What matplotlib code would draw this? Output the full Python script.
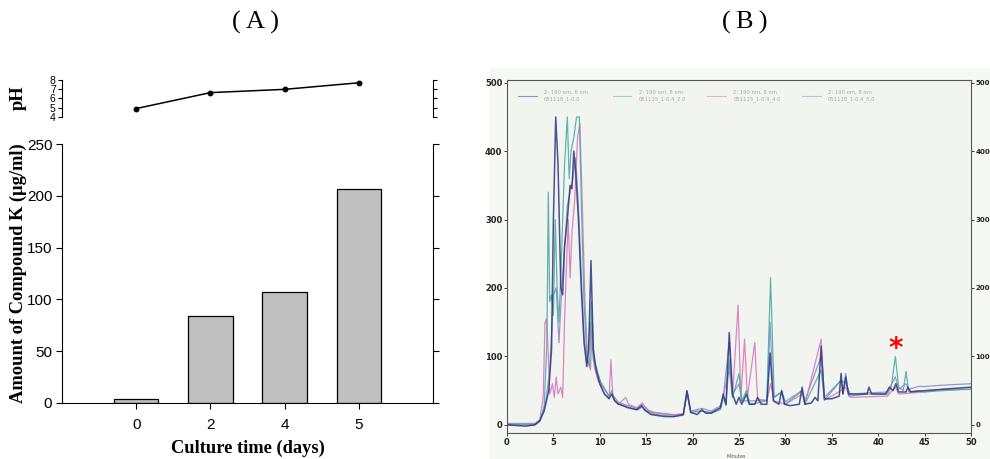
import numpy as np
import matplotlib
matplotlib.use("Agg")
import matplotlib.pyplot as plt

# ---- panel A: Compound K production and pH during culture ----
days = ["0", "2", "4", "5"]
compound_k = [4, 84, 107, 207]
ph_values = [4.9, 6.6, 6.95, 7.65]

# ---- panel B: HPLC chromatogram traces (minutes, mAU) ----
navy_t = [0, 2, 3, 3.5, 4.0, 4.5, 4.8, 5.0, 5.25, 5.5, 5.8, 6.0, 6.2, 6.5, 6.8, 7.0,
          7.2, 7.4, 7.7, 8.0, 8.3, 8.6, 8.8, 9.05, 9.3, 9.6, 10, 10.5, 11, 11.3, 11.6,
          12, 12.5, 13, 14, 14.5, 14.8, 15.5, 17, 18, 19, 19.4, 19.8, 20.5, 21, 21.4,
          22, 23, 23.3, 23.6, 23.95, 24.3, 24.7, 25, 25.3, 25.8, 26.1, 26.7, 27, 27.4,
          28, 28.35, 28.7, 29.3, 29.6, 29.9, 30.5, 31.5, 31.8, 32.1, 32.8, 33.2, 33.5,
          33.85, 34.2, 35, 35.8, 36.0, 36.2, 36.5, 36.8, 37.5, 38.8, 39, 39.3, 40, 40.8,
          41.2, 41.6, 41.9, 42.2, 43, 43.2, 43.5, 45, 47, 50]
navy_v = [0, -2, 0, 5, 20, 50, 110, 300, 450, 380, 200, 190, 260, 300, 350, 345,
          400, 370, 300, 200, 120, 85, 110, 240, 110, 80, 60, 45, 38, 45, 35,
          30, 28, 25, 22, 28, 22, 15, 12, 12, 15, 50, 18, 15, 22, 17,
          17, 25, 45, 30, 135, 45, 30, 40, 30, 45, 30, 30, 40, 30,
          30, 105, 35, 30, 50, 30, 28, 30, 55, 30, 32, 40, 35,
          115, 38, 38, 42, 75, 45, 70, 45, 45, 45, 55, 45, 45, 45,
          55, 50, 60, 48, 48, 55, 48, 50, 52, 55]

teal_t = [0, 3, 3.6, 4.0, 4.3, 4.45, 4.6, 4.8, 5.0, 5.2, 5.4, 5.6, 5.9, 6.2, 6.5, 6.7,
          6.9, 7.2, 7.5, 7.8, 8.0, 8.3, 8.6, 8.9, 9.1, 9.3, 9.6, 9.8, 10.2, 11, 11.3,
          11.6, 12.5, 14, 14.6, 15, 16, 18, 19, 19.4, 19.8, 21, 22, 23, 23.3, 23.6,
          23.95, 24.3, 25, 25.3, 25.8, 26.2, 27, 28.0, 28.4, 28.8, 29.6, 30, 31.8, 32.1,
          33.85, 34.2, 36.0, 36.2, 36.5, 36.8, 39, 41, 41.4, 41.85, 42.2, 42.7, 43.0,
          43.3, 44.2, 45, 47, 50]
teal_v = [0, 0, 8, 25, 120, 340, 180, 190, 160, 300, 200, 150, 260, 380, 450, 360,
          400, 420, 450, 450, 330, 180, 100, 85, 180, 95, 85, 75, 58, 42, 50,
          35, 28, 22, 26, 20, 15, 12, 14, 48, 18, 20, 17, 22, 40, 28,
          95, 40, 75, 35, 50, 30, 32, 35, 215, 40, 48, 30, 50, 30,
          80, 36, 65, 45, 75, 42, 45, 45, 55, 100, 55, 50, 78,
          48, 50, 48, 50, 52]

magenta_t = [0, 3, 3.5, 3.9, 4.1, 4.25, 4.4, 4.6, 4.9, 5.1, 5.3, 5.5, 5.8, 6.0, 6.2,
             6.4, 6.6, 6.8, 7.0, 7.3, 7.6, 7.85, 8.1, 8.4, 8.7, 9.0, 9.2, 9.4, 9.8,
             10.5, 11.0, 11.2, 11.4, 12, 12.8, 13.1, 14, 14.6, 15, 16, 18, 19, 19.4,
             19.8, 21, 22, 23, 23.95, 24.3, 24.9, 25.2, 25.6, 25.9, 26.7, 27.0, 28,
             28.4, 28.8, 30, 31.8, 32.1, 33.85, 34.2, 36, 36.5, 37, 41, 41.85, 42.2,
             45, 47, 50]
magenta_v = [0, 0, 5, 40, 150, 155, 120, 45, 60, 40, 70, 45, 55, 40, 150,
             230, 300, 215, 280, 330, 420, 440, 330, 180, 95, 80, 150, 85, 65,
             45, 40, 95, 40, 30, 40, 30, 25, 32, 22, 18, 15, 16, 45,
             20, 20, 18, 25, 80, 40, 175, 40, 125, 40, 120, 38, 35,
             60, 35, 30, 45, 30, 125, 36, 50, 55, 40, 42, 55, 45,
             48, 52, 52]

violet_t = [0, 3, 3.6, 4.2, 4.6, 5.0, 5.3, 5.6, 5.9, 6.2, 6.5, 6.8, 7.1, 7.4, 7.7,
            8.0, 8.3, 8.6, 9.0, 9.3, 10, 11, 11.3, 12, 13, 14, 14.6, 15.5, 18, 19,
            19.4, 19.8, 21, 22, 23, 23.3, 23.95, 24.3, 25, 25.3, 26.7, 28, 28.35, 28.7,
            29.6, 30, 31.8, 32.1, 33.85, 34.2, 36, 36.5, 37, 41, 41.85, 42.2, 43, 43.3,
            44.3, 45, 47, 50]
violet_v = [2, 2, 8, 35, 80, 190, 200, 120, 200, 260, 320, 340, 360, 390, 320,
            220, 130, 90, 150, 100, 65, 42, 45, 33, 28, 24, 30, 18, 14, 16,
            48, 20, 24, 20, 28, 40, 120, 45, 60, 35, 35, 36, 150, 40,
            48, 34, 50, 35, 100, 40, 65, 60, 45, 48, 70, 52, 60, 52,
            56, 56, 58, 60]

traces = [
    (violet_t, violet_v, "#8487c8", 0.9),
    (magenta_t, magenta_v, "#d672bb", 0.9),
    (teal_t, teal_v, "#45a8a0", 0.9),
    (navy_t, navy_v, "#2f3582", 1.1),
]
legend_labels = [
    "2: 190 nm, 8 nm\n051118_1-0.0",
    "2: 190 nm, 8 nm\n051115_1-0.4_2.0",
    "2: 190 nm, 8 nm\n051115_1-0.4_4.0",
    "2: 190 nm, 8 nm\n051115_1-0.4_5.0",
]
legend_colors = ["#2f3582", "#45a8a0", "#d672bb", "#8487c8"]
minute_ticks = [0, 5, 10, 15, 20, 25, 30, 35, 40, 45, 50]
mau_ticks = [0, 100, 200, 300, 400, 500]
marked_peak = (41.9, 111)

W, H = 990, 459
fig = plt.figure(figsize=(W / 100, H / 100), dpi=100)


def fig_rect(left, top, right, bottom):
    """Convert pixel box to figure fraction [l, b, w, h]."""
    return [left / W, 1 - bottom / H, (right - left) / W, (bottom - top) / H]


serif = "Liberation Serif"
sans = "Liberation Sans"
x = np.arange(len(days))

# pH strip on top
ax_ph = fig.add_axes(fig_rect(62, 79.5, 433, 117))
ax_ph.plot(x, ph_values, color="black", lw=1.1, marker="o", ms=3.2)
ax_ph.set_xlim(-1, 4)
ax_ph.set_ylim(4, 8)
ax_ph.set_yticks([4, 5, 6, 7, 8])
ax_ph.set_xticks([])
for s in ["top", "bottom"]:
    ax_ph.spines[s].set_visible(False)
ax_ph.tick_params(axis="y", direction="out", length=3, width=0.8, labelsize=7.5,
                  pad=1.5, right=True)
for lab in ax_ph.get_yticklabels():
    lab.set_fontfamily(sans)
ax_ph.patch.set_alpha(0)
fig.text(18 / W, 1 - 98 / H, "pH", rotation=90, ha="center", va="center",
         fontfamily=serif, fontweight="bold", fontsize=13.3)

# bar chart
ax_bar = fig.add_axes(fig_rect(62, 144, 433, 403))
ax_bar.bar(x, compound_k, width=0.6, color="#c0c0c0", edgecolor="black", lw=0.9)
ax_bar.set_xlim(-1, 4)
ax_bar.set_ylim(0, 250)
ax_bar.set_yticks([0, 50, 100, 150, 200, 250])
ax_bar.set_xticks(x)
ax_bar.set_xticklabels(days)
ax_bar.spines["top"].set_visible(False)
ax_bar.tick_params(direction="out", length=4, width=0.8, labelsize=11, right=True,
                   pad=3)
ax_bar.tick_params(axis="x", pad=7)
for lab in ax_bar.get_xticklabels() + ax_bar.get_yticklabels():
    lab.set_fontfamily(sans)
ax_bar.set_xlabel("Culture time (days)", fontfamily=serif, fontweight="bold",
                  fontsize=13.3, labelpad=5)
fig.text(18 / W, 1 - 273 / H, "Amount of Compound K (\u03bcg/ml)", rotation=90,
         ha="center", va="center", fontfamily=serif, fontweight="bold", fontsize=13.3)

# scanned chromatogram background
ax_bg = fig.add_axes(fig_rect(490, 68, 990, 459), zorder=-1)
ax_bg.set_facecolor("#f6f8f4")
ax_bg.set_xticks([])
ax_bg.set_yticks([])
for s in ax_bg.spines.values():
    s.set_visible(False)

ax_c = fig.add_axes(fig_rect(507, 80, 971, 433))
ax_c.set_facecolor("#f2f5ef")
for t, v, c, w in traces:
    ax_c.plot(t, v, color=c, lw=w, alpha=0.85)
ax_c.set_xlim(0, 50)
ax_c.set_ylim(-12, 504)
ax_c.set_xticks(minute_ticks)
ax_c.set_yticks(mau_ticks)
ax_c.tick_params(direction="out", length=2.5, width=0.6, labelsize=6, pad=1.2,
                 colors="#222222", right=True, labelright=True)
ax_c.tick_params(axis="y", which="major", right=True)
for tick in ax_c.yaxis.get_major_ticks():
    # right-hand labels sit close to the figure edge
    tick.label2.set_fontsize(5)
    tick.set_pad(0.8)
for lab in ax_c.get_xticklabels() + ax_c.get_yticklabels():
    lab.set_fontweight("bold")
for tick in ax_c.yaxis.get_major_ticks():
    tick.label2.set_fontweight("bold")
for s in ax_c.spines.values():
    s.set_color("#555555")
    s.set_linewidth(0.8)
ax_c.text(24.7, -0.06, "Minutes", transform=ax_c.get_xaxis_transform(),
          ha="center", va="top", fontsize=3.5, color="#555555")

# faint instrument legend along the top
for i, (lab, col) in enumerate(zip(legend_labels, legend_colors)):
    x0 = 1.2 + i * 10.2
    ax_c.plot([x0, x0 + 2.0], [481, 481], color=col, lw=0.8, alpha=0.5)
    ax_c.text(x0 + 2.8, 481, lab, fontsize=3.8, color="#a8aaa6", va="center",
              ha="left", linespacing=1.3)

ax_c.text(marked_peak[0], marked_peak[1], "*", color="red", fontsize=20,
          fontweight="bold", ha="center", va="center")

fig.text(255 / W, 1 - 22 / H, "(\u2009A\u2009)", ha="center", va="center",
         fontfamily=serif, fontsize=19)
fig.text(745 / W, 1 - 22 / H, "(\u2009B\u2009)", ha="center", va="center",
         fontfamily=serif, fontsize=19)

fig.savefig("out.png", dpi=100)
